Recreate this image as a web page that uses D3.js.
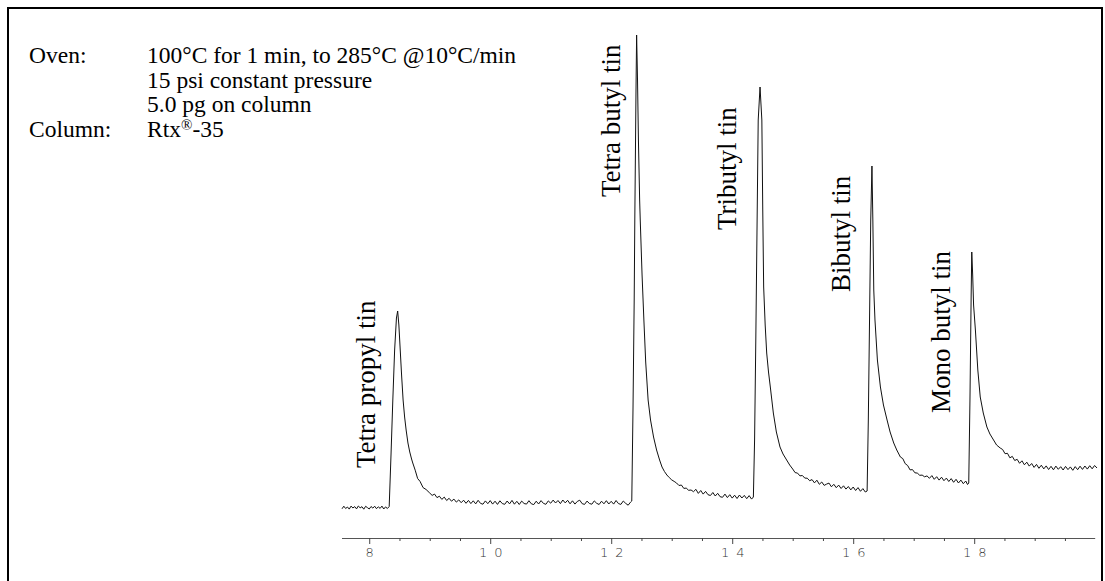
<!DOCTYPE html>
<html><head><meta charset="utf-8">
<script src="https://cdn.jsdelivr.net/npm/d3@7"></script>
<style>body{margin:0;background:#fff;} svg{display:block}</style>
</head><body>
<svg id="chart" width="1105" height="581"></svg>
<script>
// ---- data ----
const conditionNames = ["Oven:", "", "", "Column:"];
const conditionValues = ["100°C for 1 min, to 285°C @10°C/min", "15 psi constant pressure", "5.0 pg on column", "Rtx®-35"];

const compoundNames = ["Tetra propyl tin", "Tetra butyl tin", "Tributyl tin", "Bibutyl tin", "Mono butyl tin"];
// label anchor (retention time, signal) where the rotated label starts
const labelTimes = [8.09, 12.15, 14.07, 15.95, 17.60];
const labelSignals = [42, 313, 280, 218, 97];

const minorTicks = [8,8.5,9,9.5,10,10.5,11,11.5,12,12.5,13,13.5,14,14.5,15,15.5,16,16.5,17,17.5,18,18.5,19,19.5];
const tickLabels = [8, 10, 12, 14, 16, 18];

// chromatogram trace: [retention time (min), detector signal (arb.)]
const chromatogram = [
 [7.55,1.2],[7.58,3.8],[7.61,1.5],[7.64,3.0],[7.67,0.9],[7.70,3.9],[7.73,2.0],[7.76,3.4],[7.79,1.1],[7.82,4.0],
 [7.85,2.2],[7.88,3.3],[7.91,0.8],[7.94,3.7],[7.97,2.4],[8.00,1.0],[8.03,3.5],[8.06,1.9],[8.09,3.8],[8.12,1.3],
 [8.15,3.2],[8.18,1.6],[8.21,3.9],[8.24,1.0],[8.27,3.1],[8.30,1.5],
 [8.33,3.5],[8.36,55],[8.39,110],[8.42,160],[8.45,192],[8.47,199],[8.49,185],[8.51,163],[8.535,135],[8.56,110],
 [8.585,93],[8.61,80],[8.64,67],[8.67,58],[8.70,51],[8.72,47],[8.76,39.8],[8.80,31.5],[8.84,28.6],[8.89,22.4],[8.94,20.5],
 [9.00,17],[9.04,14.6],[9.08,15.9],[9.12,12.4],[9.16,13.8],[9.20,10.6],[9.24,12.9],[9.28,9.5],[9.32,11.7],[9.36,8.8],
 [9.40,10.9],[9.44,7.9],[9.48,10.1],[9.52,7.3],[9.56,9.8],[9.60,6.7],[9.64,9.6],[9.68,6.4],[9.72,9.2],[9.76,6.1],
 [9.80,9.7],[9.84,6.6],[9.88,5.8],[9.92,9.1],[9.96,6.3],[10.00,9.4],[10.04,5.9],[10.08,8.8],[10.12,5.6],[10.16,9.2],
 [10.20,6.4],[10.24,5.7],[10.28,9.0],[10.32,6.1],[10.36,9.6],[10.40,5.8],[10.44,8.7],[10.48,5.5],[10.52,8.9],[10.56,6.5],
 [10.60,5.9],[10.64,9.3],[10.68,6.2],[10.72,5.4],[10.76,8.8],[10.80,6.0],[10.84,9.4],[10.88,6.6],[10.92,5.7],[10.96,9.1],
 [11.00,6.8],[11.04,9.9],[11.08,7.0],[11.12,9.5],[11.16,6.4],[11.20,10.0],[11.24,7.1],[11.28,9.7],[11.32,6.2],[11.36,9.2],
 [11.40,5.9],[11.44,8.6],[11.48,9.8],[11.52,6.3],[11.56,5.6],[11.60,8.9],[11.64,6.5],[11.68,5.8],[11.72,9.1],[11.76,6.7],
 [11.80,5.5],[11.84,8.8],[11.88,6.2],[11.92,9.3],[11.96,6.0],[12.00,8.7],[12.04,5.9],[12.08,9.5],[12.12,6.4],[12.16,5.6],
 [12.20,9.0],[12.24,6.6],[12.28,4.8],[12.32,7.9],
 [12.34,9],[12.36,100],[12.38,210],[12.39,290],[12.41,420],[12.42,475],[12.435,430],[12.45,370],[12.47,310],[12.48,290],
 [12.51,235],[12.54,190],[12.57,148],[12.61,110],[12.65,90],[12.70,73],[12.75,60],[12.80,50],[12.84,43],[12.88,38.5],
 [12.92,35],[12.96,32.4],[13.00,30.1],[13.04,28.6],
 [13.08,27],[13.12,24.5],[13.16,25.0],[13.20,21.6],[13.24,21.9],[13.28,19.7],[13.32,20.0],[13.36,18.3],[13.40,20.7],[13.44,16.6],
 [13.48,19.5],[13.52,15.9],[13.56,18.6],[13.60,15.3],[13.64,14.5],[13.68,17.5],[13.72,14.0],[13.76,16.7],[13.80,13.3],[13.84,12.7],
 [13.88,15.9],[13.92,12.4],[13.96,15.3],[14.00,11.9],[14.04,14.8],[14.08,11.5],[14.12,15.0],[14.16,12.0],[14.20,14.6],[14.24,11.3],
 [14.28,14.4],[14.32,10.9],
 [14.35,13],[14.37,70],[14.39,170],[14.41,280],[14.43,390],[14.46,423],[14.49,390],[14.505,300],[14.52,223],[14.545,185],
 [14.57,157],[14.60,138],[14.63,123],[14.68,97],[14.73,78],[14.79,63],[14.84,56],[14.90,50],[14.95,45],[15.00,41],
 [15.04,37.4],[15.08,36.9],[15.12,34.1],[15.16,34.5],[15.20,31.9],[15.24,31.8],[15.28,29.3],[15.32,30.4],[15.36,27.1],[15.40,29.8],
 [15.44,25.7],[15.48,28.0],[15.52,24.6],[15.56,25.9],[15.60,26.9],[15.64,23.2],[15.68,25.7],[15.72,22.3],[15.76,24.9],[15.80,21.5],
 [15.84,24.2],[15.88,20.9],[15.92,23.5],[15.96,20.1],[16.00,23.0],[16.04,19.5],[16.08,22.4],[16.12,18.7],[16.16,21.4],[16.20,18.0],
 [16.23,19],[16.25,90],[16.27,190],[16.29,290],[16.31,344],[16.325,290],[16.34,220],[16.36,190],[16.40,150],[16.45,123],
 [16.50,105],[16.56,90],[16.61,78],[16.67,67],[16.72,60],[16.78,53],
 [16.82,51.4],[16.86,46.3],[16.90,44.5],[16.94,40.1],[16.98,40.4],[17.02,37.2],[17.06,36.9],[17.10,34.7],[17.14,34.9],[17.18,33.2],
 [17.22,34.1],[17.26,31.7],[17.30,34.4],[17.34,30.7],[17.38,33.3],[17.42,29.9],[17.46,32.8],[17.50,29.3],[17.54,31.9],[17.58,28.5],
 [17.62,31.4],[17.66,27.7],[17.70,30.7],[17.74,27.0],[17.78,29.9],[17.82,26.3],[17.86,29.0],[17.89,25.5],
 [17.91,27],[17.93,110],[17.95,215],[17.96,258],[17.975,235],[17.99,205],[18.02,180],[18.06,140],[18.10,113],[18.15,97],
 [18.21,83],[18.26,76],[18.32,70],[18.37,65],[18.43,62],
 [18.47,60.5],[18.51,56.3],[18.55,56.7],[18.59,52.2],[18.63,53.6],[18.67,49.5],[18.71,50.7],[18.75,46.7],[18.79,49.2],[18.83,45.2],
 [18.87,47.8],[18.91,43.9],[18.95,46.5],[18.99,42.6],[19.03,45.6],[19.07,41.7],[19.11,44.8],[19.15,41.1],[19.19,44.1],[19.23,40.5],
 [19.27,43.7],[19.31,40.2],[19.35,43.9],[19.39,40.7],[19.43,43.3],[19.47,40.0],[19.51,43.6],[19.55,40.4],[19.59,43.1],[19.63,39.7],
 [19.67,43.4],[19.71,40.3],[19.75,43.8],[19.79,40.6],[19.83,44.0],[19.87,40.9],[19.91,44.3],[19.95,41.2],[19.99,44.5],[20.03,42.0]
];

// ---- drawing ----
const svg = d3.select("#chart");
const W = 1105, H = 581;

svg.append("rect").attr("x", 0).attr("y", 0).attr("width", W).attr("height", H).attr("fill", "#fff");
// frame
svg.append("rect").attr("x", 8).attr("y", 8).attr("width", 1094).attr("height", 600)
  .attr("fill", "none").attr("stroke", "#000").attr("stroke-width", 2);

const x = d3.scaleLinear().domain([7.55, 20.03]).range([342, 1097]);
const y = d3.scaleLinear().domain([0, 480]).range([510, 30]);

// conditions text
const cond = svg.append("g").attr("font-family", "'Liberation Serif', 'Times New Roman', serif")
  .attr("font-size", 23.5).attr("fill", "#000");
conditionNames.forEach((n, i) => {
  cond.append("text").attr("x", 29).attr("y", 63 + i * 24.5).text(n);
});
conditionValues.forEach((v, i) => {
  const t = cond.append("text").attr("x", 147).attr("y", 63 + i * 24.5);
  if (v.includes("®")) {
    const parts = v.split("®");
    t.append("tspan").text(parts[0]);
    t.append("tspan").attr("font-size", 15).attr("dy", -7).text("®");
    t.append("tspan").attr("dy", 7).text(parts[1]);
  } else {
    t.text(v);
  }
});

// axis
const axis = d3.axisBottom(x).tickValues(minorTicks).tickSize(3).tickSizeOuter(0)
  .tickFormat(d => tickLabels.includes(d) ? String(d) : "");
const ax = svg.append("g").attr("transform", "translate(0,538)").call(axis);
ax.select(".domain").attr("d", `M${x(7.55)},0.5H${x(20.0)}`).attr("stroke", "#555").attr("stroke-width", 1.2);
ax.selectAll(".tick line").attr("stroke", "#444").attr("stroke-width", 1)
  .attr("y2", d => tickLabels.includes(d) ? 6 : 3);
ax.selectAll(".tick text")
  .attr("font-family", "'DejaVu Sans', sans-serif").attr("font-weight", 300)
  .attr("font-size", 13).attr("fill", "#333").attr("letter-spacing", "7px")
  .attr("y", 10).attr("dx", "3.5px");

// trace
const line = d3.line().x(d => x(d[0])).y(d => y(d[1]));
svg.append("path").datum(chromatogram).attr("d", line)
  .attr("fill", "none").attr("stroke", "#111").attr("stroke-width", 1).attr("stroke-linejoin", "round");

// peak labels
const lab = svg.append("g").attr("font-family", "'Liberation Serif', 'Times New Roman', serif")
  .attr("font-size", 27).attr("fill", "#000");
compoundNames.forEach((n, i) => {
  const px = x(labelTimes[i]), py = y(labelSignals[i]);
  lab.append("text").attr("transform", `translate(${px},${py}) rotate(-90)`).text(n);
});
</script>
</body></html>
